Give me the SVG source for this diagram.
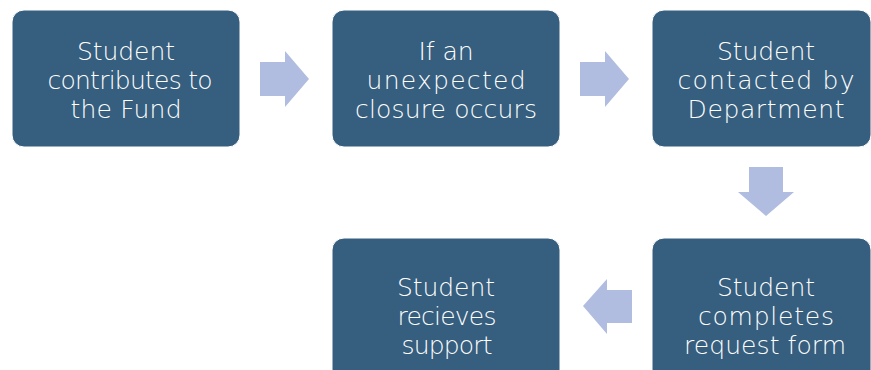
<svg xmlns="http://www.w3.org/2000/svg" width="871" height="370" viewBox="0 0 871 370">
<style>
.box{fill:#365E7E;stroke:#ffffff;stroke-width:1}
.arr{fill:#B0BDE0}
.t{fill:#ffffff;font-family:"DejaVu Sans","Liberation Sans",sans-serif;font-size:25px;font-weight:200;text-anchor:middle}
</style>
<rect width="871" height="370" fill="#ffffff"/>
<g id="connectors">
<polygon class="arr" points="260,62 285,62 285,51 309,79 285,107 285,96 260,96"/>
<polygon class="arr" points="580,62 605,62 605,51 629,79 605,107 605,96 580,96"/>
<polygon class="arr" points="749,167 783,167 783,192 794,192 766,216 738,192 749,192"/>
<polygon class="arr" points="632,290 607,290 607,279 583,306 607,334 607,323 632,323"/>
</g>
<g id="node1">
<rect class="box" x="12" y="10" width="228" height="137" rx="12"/>
<text class="t" x="126" y="60" textLength="98" lengthAdjust="spacing">Student</text>
<text class="t" x="130" y="89" textLength="165" lengthAdjust="spacing">contributes to</text>
<text class="t" x="126" y="118" textLength="111" lengthAdjust="spacing">the Fund</text>
</g>
<g id="node2">
<rect class="box" x="332" y="10" width="228" height="137" rx="12"/>
<text class="t" x="446" y="60" textLength="55" lengthAdjust="spacing">If an</text>
<text class="t" x="446" y="89" textLength="159" lengthAdjust="spacing">unexpected</text>
<text class="t" x="446" y="118" textLength="182" lengthAdjust="spacing">closure occurs</text>
</g>
<g id="node3">
<rect class="box" x="652" y="10" width="219" height="137" rx="12"/>
<text class="t" x="766" y="60" textLength="98" lengthAdjust="spacing">Student</text>
<text class="t" x="766" y="89" textLength="177" lengthAdjust="spacing">contacted by</text>
<text class="t" x="766" y="118" textLength="157" lengthAdjust="spacing">Department</text>
</g>
<g id="node4">
<rect class="box" x="652" y="238" width="219" height="145" rx="12"/>
<text class="t" x="766" y="296" textLength="98" lengthAdjust="spacing">Student</text>
<text class="t" x="766" y="325" textLength="136" lengthAdjust="spacing">completes</text>
<text class="t" x="765" y="354" textLength="162" lengthAdjust="spacing">request form</text>
</g>
<g id="node5">
<rect class="box" x="332" y="238" width="228" height="145" rx="12"/>
<text class="t" x="446" y="296" textLength="98" lengthAdjust="spacing">Student</text>
<text class="t" x="447" y="325" textLength="99" lengthAdjust="spacing">recieves</text>
<text class="t" x="447" y="354" textLength="91" lengthAdjust="spacing">support</text>
</g>
</svg>
